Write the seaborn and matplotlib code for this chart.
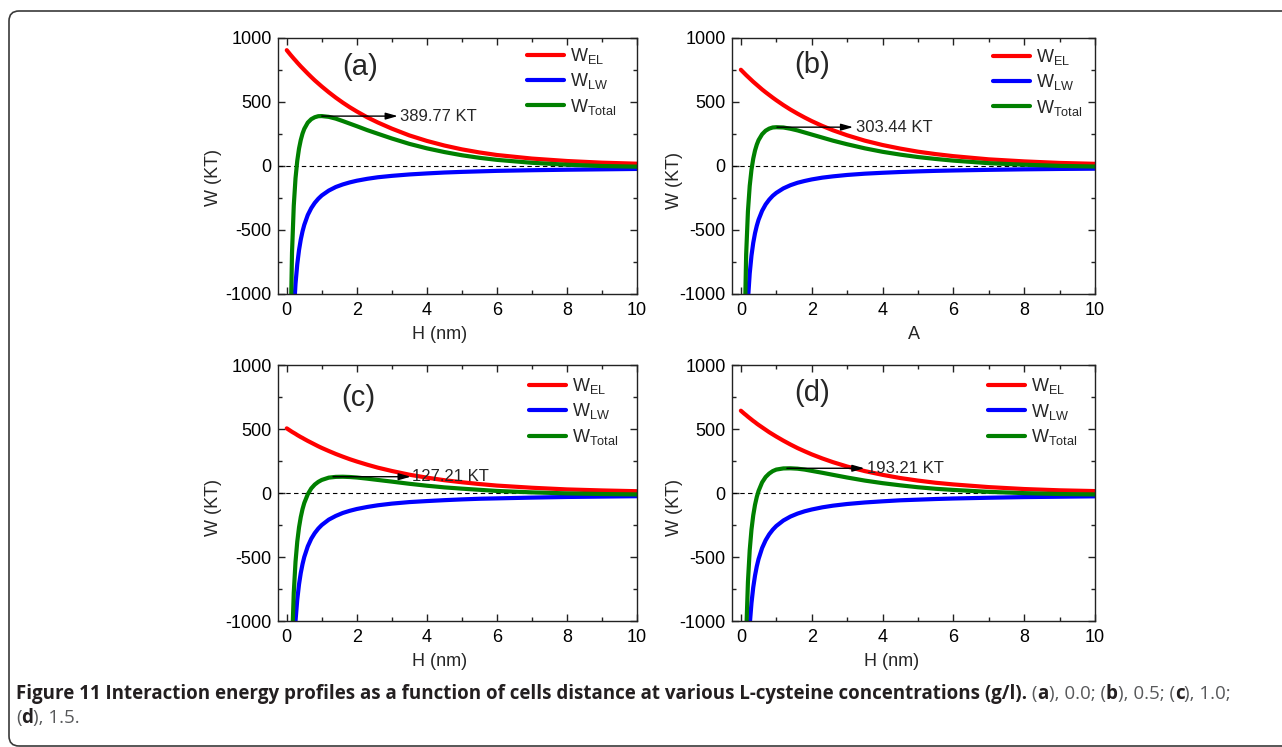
import numpy as np
import pandas as pd
import matplotlib
matplotlib.use("Agg")
import matplotlib.pyplot as plt
import seaborn as sns
from matplotlib.patches import FancyBboxPatch
from matplotlib.transforms import IdentityTransform

nan = np.nan
# distance H (nm)
H = [0.0, 0.1, 0.15, 0.2, 0.25, 0.3, 0.35, 0.4, 0.45, 0.5, 0.6, 0.7, 0.8, 0.9, 1.0,
     1.2, 1.4, 1.6, 1.8, 2.0, 2.3, 2.6, 3.0, 3.5, 4.0, 4.5, 5.0, 5.5, 6.0, 7.0, 8.0, 9.0, 10.0]

# panel (a) 0.0 g/l
a_el = [905, 871, 855, 839, 824, 808, 793, 778, 764, 750, 722, 695, 669, 645, 621,
        576, 534, 495, 459, 426, 380, 340, 292, 239, 196, 160, 130, 106, 86, 58, 39, 26, 18]
a_lw = [nan, -2300, -1533, -1150, -920, -767, -657, -575, -511, -460, -383, -329, -288, -256, -230,
        -192, -164, -144, -128, -115, -100, -88, -77, -66, -58, -51, -46, -42, -38, -33, -29, -26, -23]
a_tot = [nan, -1429, -678, -311, -96, 41, 136, 203, 253, 290, 339, 366, 381, 389, 390,
         384, 370, 351, 331, 311, 280, 252, 215, 173, 138, 109, 84, 64, 48, 25, 10, 0, -5]
# panel (b) 0.5 g/l
b_el = [752, 724, 710, 697, 684, 671, 658, 646, 634, 622, 598, 576, 555, 534, 514,
        476, 441, 409, 379, 351, 313, 279, 240, 198, 164, 136, 112, 93, 77, 52, 36, 24, 17]
b_lw = [nan, -2100, -1400, -1050, -840, -700, -600, -525, -467, -420, -350, -300, -263, -233, -210,
        -175, -150, -131, -117, -105, -91, -81, -70, -60, -53, -47, -42, -38, -35, -30, -26, -23, -21]
b_tot = [nan, -1376, -690, -353, -156, -29, 58, 121, 167, 202, 248, 276, 292, 301, 303,
         301, 291, 278, 262, 246, 222, 198, 170, 138, 111, 89, 70, 55, 42, 22, 10, 1, -4]
# panel (c) 1.0 g/l
c_el = [505, 487, 478, 470, 462, 453, 445, 437, 430, 422, 407, 393, 379, 365, 352,
        328, 305, 284, 264, 246, 221, 198, 172, 143, 120, 100, 84, 70, 58, 41, 28, 20, 14]
c_lw = [nan, -2500, -1667, -1250, -1000, -833, -714, -625, -556, -500, -417, -357, -313, -278, -250,
        -208, -179, -156, -139, -125, -109, -96, -83, -71, -63, -56, -50, -45, -42, -36, -31, -28, -25]
c_tot = [nan, -2013, -1189, -780, -538, -380, -269, -188, -126, -78, -10, 36, 66, 87, 102,
         120, 126, 127, 125, 121, 112, 102, 89, 72, 57, 44, 34, 25, 16, 5, -3, -8, -11]
# panel (d) 1.5 g/l
d_el = [643, 619, 608, 596, 585, 574, 563, 553, 542, 532, 513, 494, 475, 458, 441,
        409, 379, 351, 326, 302, 270, 241, 207, 171, 142, 117, 97, 80, 67, 46, 31, 21, 15]
d_lw = [nan, -2580, -1720, -1290, -1032, -860, -737, -645, -573, -516, -430, -369, -323, -287, -258,
        -215, -184, -161, -143, -129, -112, -99, -86, -74, -65, -57, -52, -47, -43, -37, -32, -29, -26]
d_tot = [nan, -1961, -1112, -694, -447, -286, -174, -92, -31, 16, 83, 125, 152, 171, 183,
         192, 193, 190, 183, 173, 158, 142, 121, 97, 77, 60, 45, 33, 24, 9, -1, -8, -11]

panel_tags = ["(a)", "(b)", "(c)", "(d)"]
peak_labels = ["389.77 KT", "303.44 KT", "127.21 KT", "193.21 KT"]
peak_values = [389.77, 303.44, 127.21, 193.21]
peak_h = [1.0, 1.02, 1.32, 1.3]
x_labels = ["H (nm)", "A", "H (nm)", "H (nm)"]
y_label = "W (KT)"
series_names = ["EL", "LW", "Total"]
legend_labels = [r"W$_{\mathrm{EL}}$", r"W$_{\mathrm{LW}}$", r"W$_{\mathrm{Total}}$"]
colors = {"EL": "#ff0000", "LW": "#0000ff", "Total": "#008000"}

sns.set_style("ticks")
plt.rcParams["font.family"] = ["Liberation Sans", "DejaVu Sans"]
plt.rcParams["mathtext.fontset"] = "custom"
plt.rcParams["mathtext.rm"] = "Liberation Sans"
plt.rcParams["mathtext.it"] = "Liberation Sans:italic"
plt.rcParams["mathtext.bf"] = "Liberation Sans:bold"
plt.rcParams["axes.unicode_minus"] = False

W, HP = 1282, 747
fig = plt.figure(figsize=(W / 100, HP / 100), dpi=100)
fig.patch.set_facecolor("white")

layout = [
    dict(box=(278, 38, 637, 294), leg=(0.694, 0.969), xl=(0.451, -0.125), yl=(-0.156, 0.457),
         tag=(2.09, 776), head=3.17, tx=3.22),
    dict(box=(732, 38, 1095, 294), leg=(0.719, 0.965), xl=(0.5, -0.125), yl=(-0.135, 0.445),
         tag=(2.0, 789), head=3.17, tx=3.24),
    dict(box=(278, 365, 637, 621), leg=(0.699, 0.957), xl=(0.451, -0.125), yl=(-0.156, 0.445),
         tag=(2.04, 740), head=3.54, tx=3.57),
    dict(box=(732, 365, 1095, 621), leg=(0.705, 0.956), xl=(0.44, -0.125), yl=(-0.135, 0.445),
         tag=(2.0, 779), head=3.49, tx=3.55),
]
data = [(a_el, a_lw, a_tot), (b_el, b_lw, b_tot), (c_el, c_lw, c_tot), (d_el, d_lw, d_tot)]

for i, (lay, (el, lw, tot)) in enumerate(zip(layout, data)):
    l, t, r, b = lay["box"]
    ax = fig.add_axes([l / W, 1 - b / HP, (r - l) / W, (b - t) / HP])
    n = len(H)
    df = pd.DataFrame({"H": H * 3, "W": el + lw + tot,
                       "series": ["EL"] * n + ["LW"] * n + ["Total"] * n}).dropna()
    sns.lineplot(data=df, x="H", y="W", hue="series", hue_order=series_names,
                 palette=colors, linewidth=3, legend=False, ax=ax, sort=False,
                 estimator=None)
    handles = ax.get_lines()[:3]
    ax.axhline(0, color="black", lw=0.8, ls=(0, (4, 3)), zorder=1)
    ax.set_xlim(-0.25, 10)
    ax.set_ylim(-1000, 1000)
    ax.set_xticks([0, 2, 4, 6, 8, 10])
    ax.set_xticks([1, 3, 5, 7, 9], minor=True)
    ax.set_yticks([-1000, -500, 0, 500, 1000])
    ax.set_yticks([-750, -250, 250, 750], minor=True)
    ax.tick_params(which="both", direction="in", top=True, right=True, width=1,
                   color="#222222", labelsize=13, labelcolor="black")
    ax.tick_params(which="major", length=5)
    ax.tick_params(which="minor", length=3)
    ax.tick_params(axis="x", pad=5.5)
    ax.tick_params(axis="y", pad=4.5)
    for s in ax.spines.values():
        s.set_color("#222222")
        s.set_linewidth(1.0)
    ax.set_xlabel(x_labels[i], fontsize=13)
    ax.set_ylabel(y_label, fontsize=13)
    ax.xaxis.set_label_coords(*lay["xl"])
    ax.yaxis.set_label_coords(*lay["yl"])
    ax.legend(handles=handles, labels=legend_labels, loc="upper left",
              bbox_to_anchor=lay["leg"], frameon=False, fontsize=13, borderpad=0,
              borderaxespad=0, handlelength=2.05, handletextpad=0.35, labelspacing=0.3)
    ax.text(lay["tag"][0], lay["tag"][1], panel_tags[i], fontsize=21, ha="center", va="center")
    ax.annotate("", xy=(lay["head"], peak_values[i]), xytext=(peak_h[i], peak_values[i]),
                arrowprops=dict(arrowstyle="-|>,head_length=0.6,head_width=0.17",
                                color="black", lw=1, mutation_scale=12, shrinkA=0, shrinkB=0))
    ax.text(lay["tx"], peak_values[i], peak_labels[i], fontsize=12, ha="left", va="center")

# caption
fig.canvas.draw()
rend = fig.canvas.get_renderer()
BOLD_C, NORM_C = "#231f20", "#58595b"


def measure(s, weight, fs):
    t1 = fig.text(0, 0, "|" + s + "|", fontsize=fs, fontweight=weight, family="Open Sans")
    t2 = fig.text(0, 0, "||", fontsize=fs, fontweight=weight, family="Open Sans")
    w = t1.get_window_extent(rend).width - t2.get_window_extent(rend).width
    t1.remove()
    t2.remove()
    return w


line1 = [("Figure 11 Interaction energy profiles as a function of cells distance at various "
          "L-cysteine concentrations (g/l).", "bold"), (" (", "normal"), ("a", "bold"),
         ("), 0.0; (", "normal"), ("b", "bold"), ("), 0.5; (", "normal"), ("c", "bold"),
         ("), 1.0;", "normal")]
line2 = [("(", "normal"), ("d", "bold"), ("), 1.5.", "normal")]

base_fs = 10.0
tot_w = sum(measure(s, w, base_fs) for s, w in line1)
fs = base_fs * (1233 - 16) / tot_w


def place(pieces, x0, ybase):
    x = x0
    for s, w in pieces:
        fig.text(x / W, 1 - ybase / HP, s, fontsize=fs, fontweight=w, family="Open Sans",
                 color=BOLD_C if w == "bold" else NORM_C, ha="left", va="baseline")
        x += measure(s, w, fs)


place(line1, 16, 699)
place(line2, 16, 723)

border = FancyBboxPatch((9, 1), 1300, 735, boxstyle="round,pad=0,rounding_size=10",
                        transform=IdentityTransform(), fill=False, edgecolor="#3a3a3a",
                        lw=1.2, clip_on=False)
fig.add_artist(border)

fig.savefig("out.png", dpi=100, facecolor="white")
